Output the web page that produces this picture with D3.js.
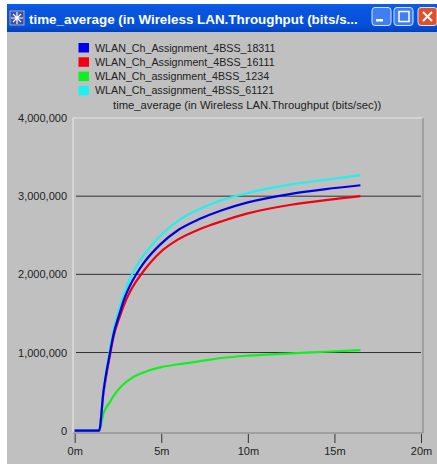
<!DOCTYPE html>
<html><head><meta charset="utf-8">
<script src="https://cdn.jsdelivr.net/npm/d3@7/dist/d3.min.js"></script>
<style>html,body{margin:0;padding:0;background:#fff}svg{display:block}text{font-family:"Liberation Sans",Arial,sans-serif}</style>
</head><body><svg id="c" width="437" height="464"></svg>
<script>
const windowTitle = "time_average (in Wireless LAN.Throughput (bits/s...";
const chartTitle = "time_average (in Wireless LAN.Throughput (bits/sec))";
const seriesNames = ["WLAN_Ch_Assignment_4BSS_18311","WLAN_Ch_Assignment_4BSS_16111","WLAN_Ch_assignment_4BSS_1234","WLAN_Ch_assignment_4BSS_61121"];
const seriesColors = ["#0000e0","#f00010","#10f020","#20f0f0"];
const yTicks = [0,1000000,2000000,3000000,4000000];
const xTicks = [0,5,10,15,20];
const times = [0,1.41,1.66,2.04,2.23,2.62,2.85,3.2,3.58,3.97,4.93,6,7.24,8.5,10,12.5,14.5,16.5];
const blue  = [0,0,500000,1000000,1220000,1520000,1680000,1860000,2010000,2140000,2380000,2570000,2710000,2820000,2920000,3030000,3090000,3140000];
const red   = [0,0,480000,970000,1190000,1470000,1610000,1780000,1920000,2040000,2280000,2450000,2580000,2680000,2780000,2890000,2950000,3000000];
const green = [0,0,220000,370000,440000,550000,600000,660000,710000,745000,810000,850000,890000,930000,960000,990000,1010000,1030000];
const cyan  = [0,0,510000,1040000,1270000,1590000,1750000,1950000,2110000,2240000,2490000,2690000,2840000,2950000,3040000,3150000,3210000,3270000];

const svg = d3.select("#c");
svg.append("rect").attr("x",7).attr("y",4).attr("width",430).attr("height",460).attr("fill","#c0c0c0");

// window title bar
const grad = svg.append("defs").append("linearGradient").attr("id","tb").attr("x1",0).attr("x2",0).attr("y1",0).attr("y2",1);
[[0,"#0a5fe8"],[0.2,"#0a55e0"],[0.8,"#0450d8"],[1,"#0340b8"]].forEach(d=>grad.append("stop").attr("offset",d[0]).attr("stop-color",d[1]));
svg.append("rect").attr("x",7).attr("y",4).attr("width",430).attr("height",28).attr("fill","url(#tb)");
svg.append("rect").attr("x",10).attr("y",11).attr("width",14).attr("height",14).attr("fill","#3a4fa8").attr("stroke","#aab","stroke-width",0.5);
svg.append("path").attr("d","M17 12V24M11 18H23M13 14L21 22M21 14L13 22").attr("stroke","#fff").attr("stroke-width",1.2);
svg.append("text").attr("x",29).attr("y",24).attr("font-size",13.4).attr("font-weight","bold").attr("fill","#fff").text(windowTitle);
[[372,"#3f7ff0"],[394,"#3f7ff0"],[418,"#e0502a"]].forEach(d=>{
  svg.append("rect").attr("x",d[0]).attr("y",7.5).attr("width",19).attr("height",18).attr("rx",3).attr("fill",d[1]).attr("stroke","#d8e4fc");
});
svg.append("rect").attr("x",376).attr("y",19).attr("width",7).attr("height",2.5).attr("fill","#fff");
svg.append("rect").attr("x",399).attr("y",11.5).attr("width",10).attr("height",10).attr("fill","none").attr("stroke","#fff").attr("stroke-width",1.5);
svg.append("path").attr("d","M423 12L432 21M432 12L423 21").attr("stroke","#fff").attr("stroke-width",2);

// scales
const x = d3.scaleLinear().domain([0,20]).range([74.7,421]);
const y = d3.scaleLinear().domain([0,4000000]).range([430.7,118]);

// frame
svg.append("path").attr("d","M73 118V433").attr("stroke","#ececec").attr("fill","none");
svg.append("path").attr("d","M73 118H423").attr("stroke","#e4e4e4").attr("fill","none");
svg.append("path").attr("d","M423 118V433H73").attr("stroke","#808080").attr("stroke-width",1).attr("fill","none");

// gridlines
svg.append("g").selectAll("line").data(yTicks.slice(1,4)).join("line")
  .attr("x1",76).attr("x2",421).attr("y1",d=>y(d)).attr("y2",d=>y(d)).attr("stroke","#303030").attr("stroke-width",1);

// axes
const yAxis = d3.axisLeft(y).tickValues(yTicks).tickSize(0).tickPadding(6).tickFormat(d3.format(","));
const gy = svg.append("g").attr("transform","translate(73,0)").call(yAxis);
gy.select(".domain").remove();
gy.selectAll("text").attr("font-size",11).attr("fill","#222").style("font-family",'"Liberation Sans",Arial,sans-serif');
const xAxis = d3.axisBottom(x).tickValues(xTicks).tickSize(9).tickPadding(4).tickFormat(d=>d+"m");
const gx = svg.append("g").attr("transform","translate(0,434)").call(xAxis);
gx.select(".domain").remove();
gx.selectAll("line").attr("stroke","#333");
gx.selectAll("text").attr("font-size",11).attr("fill","#222").style("font-family",'"Liberation Sans",Arial,sans-serif');

// lines
const line = d3.line().x((d,i)=>x(times[i])).y(d=>y(d)).curve(d3.curveMonotoneX);
[[green,2],[red,1],[cyan,3],[blue,0]].forEach(([vals,c])=>{
  svg.append("path").attr("d",line(vals)).attr("fill","none").attr("stroke",seriesColors[c]).attr("stroke-width",2.2);
});

// legend
seriesNames.forEach((n,i)=>{
  const ly = 48+i*14.3;
  svg.append("rect").attr("x",78.5).attr("y",ly-5).attr("width",10.5).attr("height",9.5).attr("fill",i===0?"#0000f0":seriesColors[i]);
  svg.append("text").attr("x",95).attr("y",ly+3.5).attr("font-size",10.7).attr("fill","#222").text(n);
});
svg.append("text").attr("x",113).attr("y",109).attr("font-size",11.25).attr("fill","#222").text(chartTitle);
</script></body></html>
